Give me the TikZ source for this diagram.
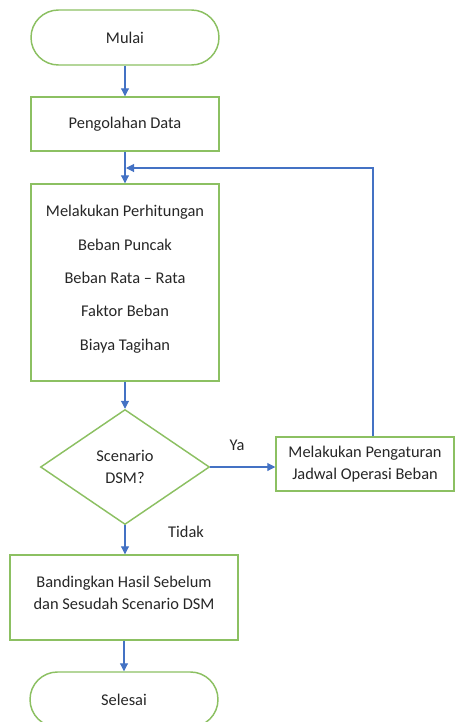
\documentclass[tikz,border=0pt]{standalone}
\usepackage{fontspec}
\setmainfont{Carlito}
\usetikzlibrary{arrows.meta,shapes.geometric}

\definecolor{garishijau}{RGB}{140,192,98}
\definecolor{panahbiru}{RGB}{68,114,196}

\begin{document}
\begin{tikzpicture}[x=0.75pt,y=-0.75pt,
  every node/.style={font=\fontsize{12.3}{16}\selectfont, text=black!85},
  terminal/.style={draw=garishijau, line width=1.1pt, rectangle, rounded corners=20.6pt,
    minimum width=141pt, minimum height=41.25pt},
  proses/.style={draw=garishijau, line width=1.1pt, rectangle, align=center},
  keputusan/.style={draw=garishijau, line width=1.1pt, diamond, align=center,
    minimum width=126.75pt, minimum height=86.25pt, inner sep=0pt},
  panah/.style={draw=panahbiru, line width=0.8pt, -{Triangle[length=6pt,width=6pt]}},
  garis/.style={draw=panahbiru, line width=0.8pt}
]

\clip (0,0) rectangle (455,722);

% simpul utama
\node[terminal] (mulai) at (125,37.5) {Mulai};
\node[proses, minimum width=141pt, minimum height=40.5pt] (olah) at (125,124) {Pengolahan Data};
\node[proses, minimum width=141pt, minimum height=147.75pt, text depth=7pt,
  font=\fontsize{12.3}{25}\selectfont] (hitung) at (125,282.5)
  {Melakukan Perhitungan\\Beban Puncak\\Beban Rata -- Rata\\Faktor Beban\\Biaya Tagihan};
\node[keputusan] (dsm) at (125,467) {Scenario\\DSM?};
\node[proses, minimum width=133.5pt, minimum height=40.5pt] (atur) at (365,464)
  {Melakukan Pengaturan\\Jadwal Operasi Beban};
\node[proses, minimum width=171pt, minimum height=63.75pt, text depth=7pt] (banding) at (124,597.5)
  {Bandingkan Hasil Sebelum\\dan Sesudah Scenario DSM};
\node[terminal] (selesai) at (124,699.5) {Selesai};

% label cabang
\node (ya) at (237,445) {Ya};
\node (tidak) at (186,532) {Tidak};

\coordinate (balik) at (126,168);

% penghubung
\draw[panah] (mulai) -- (olah);
\draw[panah] (olah) -- (hitung);
\draw[panah] (hitung) -- (dsm);
\draw[panah] (dsm.east) -- (dsm.east -| atur.west);
\draw[panah] ([xshift=6pt]atur.north) |- (balik);
\draw[panah] (dsm.south) -- (dsm.south |- banding.north);
\draw[panah] (banding) -- (selesai);

\end{tikzpicture}
\end{document}
